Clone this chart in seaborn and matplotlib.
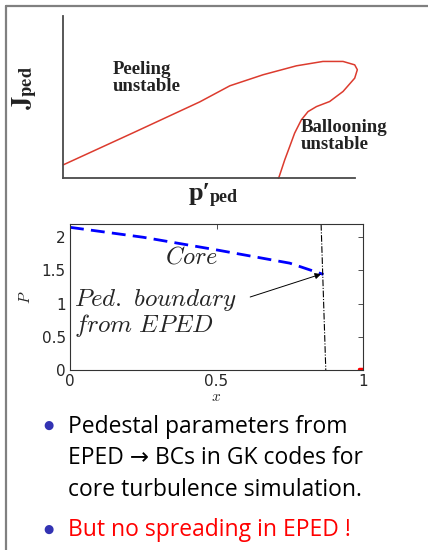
import matplotlib
matplotlib.use("Agg")
import matplotlib.pyplot as plt
from matplotlib.lines import Line2D
import seaborn as sns

# peeling-ballooning boundary (arbitrary units)
pb_x = [0.0, 0.239, 0.468, 0.571, 0.685, 0.799, 0.890, 0.959, 0.999, 1.008,
        0.999, 0.959, 0.913, 0.868, 0.839, 0.816, 0.793, 0.776, 0.759, 0.740, 0.737]
pb_y = [0.083, 0.280, 0.471, 0.570, 0.638, 0.693, 0.720, 0.720, 0.699, 0.669,
        0.617, 0.535, 0.473, 0.442, 0.411, 0.360, 0.278, 0.195, 0.113, 0.010, 0.0]

# core profile P(x)
core_x = [0.0, 0.25, 0.5, 0.75, 0.865]
core_p = [2.15, 2.0, 1.81, 1.61, 1.44]

# pedestal boundary from EPED (vertical dash-dot)
bnd_x = [0.857, 0.873]
bnd_p = [2.2, 0.0]

# small red piece at the edge
edge_x = [0.988, 1.0]
edge_p = [0.02, 0.02]

xticks = [0, 0.5, 1]
xtick_labels = ["0", "0.5", "1"]
yticks = [0, 0.5, 1, 1.5, 2]
ytick_labels = ["0", "0.5", "1", "1.5", "2"]

bullet_lines = ["Pedestal parameters from",
                "EPED \u2192 BCs in GK codes for",
                "core turbulence simulation."]
bullet_red = "But no spreading in EPED !"

sns.set_theme(style="white")
plt.rcParams["font.family"] = ["DejaVu Sans"]

W, H = 428, 550
fig = plt.figure(figsize=(W / 100, H / 100), dpi=100)


def fx(px):
    return px / W


def fy(py):
    return 1 - py / H


# slide frame
fig.add_artist(Line2D([fx(6), 1], [fy(6), fy(6)], color="#808080", lw=1.6))
fig.add_artist(Line2D([fx(6), fx(6)], [fy(6), 0], color="#808080", lw=1.6))

# ---- top: stability diagram
ax1 = fig.add_axes([fx(63.3), fy(178.3), (355 - 63.3) / W, (178.3 - 16) / H])
sns.lineplot(x=pb_x, y=pb_y, sort=False, estimator=None, color="#dc3b2e",
             lw=1.1, ax=ax1)
for ln in ax1.lines:
    ln.set_clip_on(False)
ax1.set_xlim(0, 1)
ax1.set_ylim(0, 1)
ax1.set_xticks([])
ax1.set_yticks([])
for s in ["top", "right"]:
    ax1.spines[s].set_visible(False)
for s in ["left", "bottom"]:
    ax1.spines[s].set_color("#4a4a4a")
    ax1.spines[s].set_linewidth(1.3)
ax1.set_facecolor("none")

ax1.text(0.168, 0.62, "Peeling\nunstable", transform=ax1.transAxes,
         family="Liberation Serif", weight="bold", fontsize=13.5,
         color="#222222", va="center", ha="left", linespacing=1.0)
ax1.text(0.814, 0.262, "Ballooning\nunstable", transform=ax1.transAxes,
         family="Liberation Serif", weight="bold", fontsize=13.5,
         color="#222222", va="center", ha="left", linespacing=1.0)

fig.text(fx(25), fy(88), r"$\mathbf{J}_{\mathbf{ped}}$", rotation=90,
         fontsize=19, math_fontfamily="stix", ha="center", va="center",
         color="#222222")
fig.text(fx(189), fy(200), "p\u2032", fontsize=19,
         family=["Liberation Serif", "DejaVu Serif"], weight="bold",
         ha="left", va="baseline", color="#222222")
fig.text(fx(210), fy(202), "ped", fontsize=13,
         family=["Liberation Serif", "DejaVu Serif"], weight="bold",
         ha="left", va="baseline", color="#222222")

# ---- bottom: P profile
ax2 = fig.add_axes([fx(70), fy(370), (363 - 70) / W, (370 - 224) / H])
sns.lineplot(x=core_x, y=core_p, sort=False, estimator=None, color="blue",
             lw=2.0, linestyle=(0, (5, 2.6)), ax=ax2)
sns.lineplot(x=bnd_x, y=bnd_p, sort=False, estimator=None, color="black",
             lw=0.8, linestyle=(0, (6, 1.5, 1, 1.5)), ax=ax2)
sns.lineplot(x=edge_x, y=edge_p, sort=False, estimator=None, color="red",
             lw=2.5, ax=ax2)
ax2.set_xlim(0, 1)
ax2.set_ylim(0, 2.2)
ax2.set_xticks(xticks)
ax2.set_xticklabels(xtick_labels)
ax2.set_yticks(yticks)
ax2.set_yticklabels(ytick_labels)
ax2.tick_params(direction="in", top=True, right=True, length=3.5, width=0.6,
                color="#333333", labelsize=11, labelcolor="#262626", pad=3)
for s in ax2.spines.values():
    s.set_color("#333333")
    s.set_linewidth(0.8)
ax2.set_xlabel(r"$x$", fontsize=11, labelpad=0, math_fontfamily="cm")
ax2.set_ylabel(r"$P$", fontsize=11, labelpad=6, math_fontfamily="cm")

ax2.text(0.415, 1.71, r"$Core$", fontsize=17.5, math_fontfamily="cm",
         ha="center", va="center")
ax2.text(0.012, 0.86, "$Ped.\\ boundary$\n$from\\ EPED$", fontsize=18,
         math_fontfamily="cm", ha="left", va="center", linespacing=0.95)
ax2.annotate("", xy=(0.857, 1.445), xytext=(0.615, 1.1),
             arrowprops=dict(arrowstyle="-|>", color="black", lw=0.7,
                             mutation_scale=9, shrinkA=0, shrinkB=0))

# ---- bullets
bullet_col = "#3333b3"
for yb in (425, 529):
    fig.text(fx(48), fy(yb), "\u25cf", fontsize=8.5, color=bullet_col,
             ha="center", va="center")
for i, line in enumerate(bullet_lines):
    fig.text(fx(68), fy(427 + 31.5 * i), line, fontsize=16.5,
             family=["Open Sans", "DejaVu Sans"], color="black",
             ha="left", va="center")
fig.text(fx(68), fy(530), bullet_red, fontsize=16.5,
         family=["Open Sans", "DejaVu Sans"], color="red",
         ha="left", va="center")

fig.savefig("out.png", dpi=100)
